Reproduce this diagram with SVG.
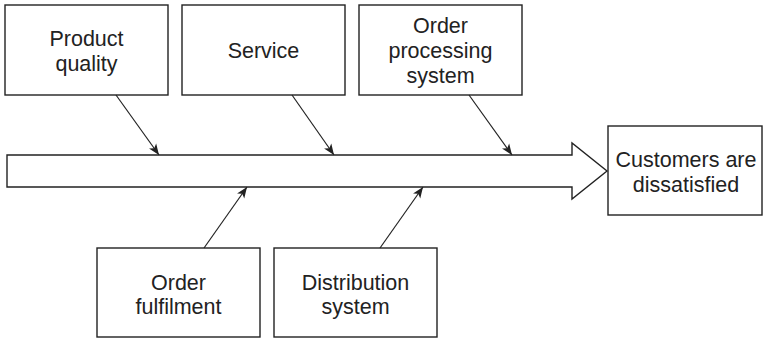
<svg xmlns="http://www.w3.org/2000/svg" width="764" height="339" viewBox="0 0 764 339">
<defs>
<style>
.box{fill:#fff;stroke:#222;stroke-width:1.4}
.lbl{font-family:"Liberation Sans",Arial,sans-serif;font-size:21.5px;fill:#222;text-anchor:middle}
.con{stroke:#222;stroke-width:1.2;fill:none;marker-end:url(#ah)}
</style>
<marker id="ah" viewBox="0 0 10 10" refX="10" refY="5" markerWidth="11" markerHeight="11" markerUnits="userSpaceOnUse" orient="auto">
<path d="M0,1 L10,5 L0,9 L2.5,5 Z" fill="#222"/>
</marker>
</defs>
<rect width="764" height="339" fill="#fff"/>
<g id="spine">
<path class="box" d="M7,155 H572 V143 L607,171 L572,199 V187 H7 Z"/>
</g>
<g id="n-product">
<rect class="box" x="5" y="5" width="163" height="90"/>
<text class="lbl" x="86.5" y="46">Product</text>
<text class="lbl" x="86.5" y="71">quality</text>
</g>
<g id="n-service">
<rect class="box" x="182" y="5" width="163" height="90"/>
<text class="lbl" x="263.5" y="58">Service</text>
</g>
<g id="n-orderproc">
<rect class="box" x="359" y="5" width="163" height="90"/>
<text class="lbl" x="440.5" y="33">Order</text>
<text class="lbl" x="440.5" y="58">processing</text>
<text class="lbl" x="440.5" y="83">system</text>
</g>
<g id="n-customers">
<rect class="box" x="608" y="126" width="154" height="89"/>
<text class="lbl" x="686" y="167">Customers are</text>
<text class="lbl" x="686" y="192">dissatisfied</text>
</g>
<g id="n-fulfil">
<rect class="box" x="97" y="248" width="163" height="89"/>
<text class="lbl" x="178.5" y="290">Order</text>
<text class="lbl" x="178.5" y="314">fulfilment</text>
</g>
<g id="n-distrib">
<rect class="box" x="274" y="248" width="163" height="89"/>
<text class="lbl" x="355.5" y="290">Distribution</text>
<text class="lbl" x="355.5" y="314">system</text>
</g>
<g id="connectors">
<line class="con" x1="116" y1="95" x2="159" y2="155"/>
<line class="con" x1="292" y1="95" x2="334" y2="155"/>
<line class="con" x1="469" y1="95" x2="512" y2="155"/>
<line class="con" x1="204" y1="248" x2="247" y2="187"/>
<line class="con" x1="380" y1="248" x2="423" y2="187"/>
</g>
</svg>
